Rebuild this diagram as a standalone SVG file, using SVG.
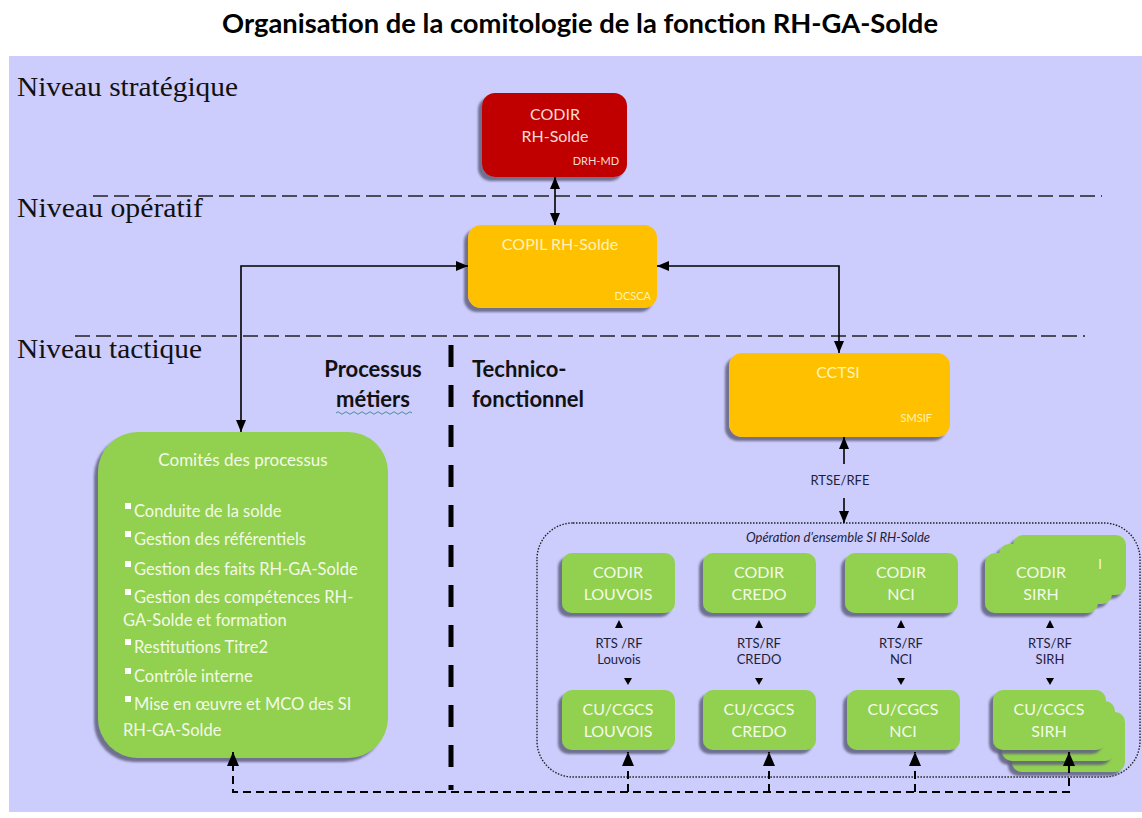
<svg xmlns="http://www.w3.org/2000/svg" width="1142" height="818" viewBox="0 0 1142 818">
<defs>
<style>
.sans{font-family:Lato,"Open Sans","Liberation Sans",sans-serif}
.serif{font-family:"Liberation Serif","Times New Roman",serif}
.lvl{font-size:27px;fill:#111}
.title{font-size:26px;font-weight:bold;fill:#000}
.boxt{font-size:16px;text-anchor:middle}
.gt{fill:#F3FAE8}
.yt{fill:#FFF3B8}
.rt{fill:#F8DCD4}
.small{font-size:11px}
.lab{font-size:13px;fill:#1E1E3A;text-anchor:middle}
.item{font-size:16.5px;fill:#F3FAE8}
.hdr{font-size:22px;font-weight:bold;fill:#111}
.green{fill:#92D050}
.yel{fill:#FFC000}
.red{fill:#C00000}
.conn{stroke:#000;stroke-width:1.6;fill:none}
.fb{stroke:#000;stroke-width:2;fill:none;stroke-dasharray:8 5}
.lvline{stroke:#222;stroke-width:1.5;stroke-dasharray:15 6;fill:none}
</style>
<filter id="sh" x="-20%" y="-20%" width="140%" height="140%">
<feDropShadow dx="-4" dy="4" stdDeviation="1.2" flood-color="#5E5E7E" flood-opacity="0.85"/>
</filter>
<marker id="ah" viewBox="0 0 12 10" refX="12" refY="5" markerWidth="12" markerHeight="10" markerUnits="userSpaceOnUse" orient="auto-start-reverse">
<path d="M0,0 L12,5 L0,10 z" fill="#000"/>
</marker>
<marker id="ahb" viewBox="0 0 14 12" refX="14" refY="6" markerWidth="14" markerHeight="12" markerUnits="userSpaceOnUse" orient="auto-start-reverse">
<path d="M0,0 L14,6 L0,12 z" fill="#000"/>
</marker>
</defs>

<rect x="0" y="0" width="1142" height="818" fill="#FFFFFF"/>
<rect x="9" y="56" width="1133" height="756" fill="#CCCCFD"/>

<text class="sans title" x="222" y="33" textLength="716" lengthAdjust="spacingAndGlyphs">Organisation de la comitologie de la fonction  RH-GA-Solde</text>

<g id="levels">
<text class="serif lvl" x="17" y="96" textLength="221" lengthAdjust="spacingAndGlyphs">Niveau stratégique</text>
<text class="serif lvl" x="17" y="217" textLength="186" lengthAdjust="spacingAndGlyphs">Niveau opératif</text>
<text class="serif lvl" x="17" y="358" textLength="185" lengthAdjust="spacingAndGlyphs">Niveau tactique</text>
<path class="lvline" d="M93 196 H1102"/>
<path class="lvline" d="M75 336 H1085"/>
</g>

<g id="section-labels">
<text class="sans hdr" x="373" y="377" text-anchor="middle">Processus</text>
<text class="sans hdr" x="373" y="407" text-anchor="middle">métiers</text>
<path d="M336 413 q2 -2.5 4 0 t4 0 t4 0 t4 0 t4 0 t4 0 t4 0 t4 0 t4 0 t4 0 t4 0 t4 0 t4 0 t4 0 t4 0 t4 0 t4 0 t4 0 t4 0" stroke="#4C8C9C" stroke-width="1" fill="none"/>
<text class="sans hdr" x="472" y="377">Technico-</text>
<text class="sans hdr" x="472" y="407">fonctionnel</text>
<path d="M451 345 V790" stroke="#000" stroke-width="5" stroke-dasharray="22 18" fill="none"/>
</g>

<g id="container">
<rect x="537" y="523" width="603" height="254" rx="36" ry="36" fill="none" stroke="#222" stroke-width="1.4" stroke-dasharray="1.5 1.5"/>
<text class="sans" x="838" y="542" text-anchor="middle" font-size="13" font-style="italic" fill="#1E1E3A">Opération d’ensemble SI RH-Solde</text>
</g>

<g id="codir-rh">
<rect class="red" x="482" y="93" width="145" height="84" rx="13" filter="url(#sh)"/>
<text class="sans boxt rt" x="555" y="120">CODIR</text>
<text class="sans boxt rt" x="555" y="142">RH-Solde</text>
<text class="sans small rt" x="619" y="165" text-anchor="end">DRH-MD</text>
</g>

<g id="copil">
<rect class="yel" x="468" y="225" width="189" height="83" rx="13" filter="url(#sh)"/>
<text class="sans boxt yt" x="560" y="250">COPIL RH-Solde</text>
<text class="sans small yt" x="651" y="300" text-anchor="end">DCSCA</text>
</g>

<g id="cctsi">
<rect class="yel" x="729" y="353" width="221" height="84" rx="13" filter="url(#sh)"/>
<text class="sans boxt yt" x="838" y="378">CCTSI</text>
<text class="sans small yt" x="932" y="422" text-anchor="end">SMSIF</text>
</g>

<g id="comites">
<rect class="green" x="98" y="432" width="290" height="326" rx="40" filter="url(#sh)"/>
<text class="sans gt" x="243" y="466" font-size="17" text-anchor="middle">Comités des processus</text>
<g fill="#FFFFFF">
<rect x="125" y="503" width="6" height="6"/>
<rect x="125" y="531" width="6" height="6"/>
<rect x="125" y="561" width="6" height="6"/>
<rect x="125" y="589" width="6" height="6"/>
<rect x="125" y="639" width="6" height="6"/>
<rect x="125" y="668" width="6" height="6"/>
<rect x="125" y="696" width="6" height="6"/>
</g>
<text class="sans item" x="134" y="517">Conduite de la solde</text>
<text class="sans item" x="134" y="545">Gestion des référentiels</text>
<text class="sans item" x="134" y="575">Gestion des faits RH-GA-Solde</text>
<text class="sans item" x="134" y="603">Gestion des compétences RH-</text>
<text class="sans item" x="123" y="626">GA-Solde et formation</text>
<text class="sans item" x="134" y="653">Restitutions  Titre2</text>
<text class="sans item" x="134" y="682">Contrôle interne</text>
<text class="sans item" x="134" y="710">Mise en œuvre et MCO des SI</text>
<text class="sans item" x="123" y="736">RH-GA-Solde</text>
</g>

<g id="codir-louvois">
<rect class="green" x="562" y="553" width="113" height="60" rx="10" filter="url(#sh)"/>
<text class="sans boxt gt" x="618" y="578">CODIR</text>
<text class="sans boxt gt" x="618" y="600">LOUVOIS</text>
</g>
<g id="codir-credo">
<rect class="green" x="703" y="553" width="113" height="60" rx="10" filter="url(#sh)"/>
<text class="sans boxt gt" x="759" y="578">CODIR</text>
<text class="sans boxt gt" x="759" y="600">CREDO</text>
</g>
<g id="codir-nci">
<rect class="green" x="845" y="553" width="113" height="60" rx="10" filter="url(#sh)"/>
<text class="sans boxt gt" x="901" y="578">CODIR</text>
<text class="sans boxt gt" x="901" y="600">NCI</text>
</g>
<g id="codir-sirh">
<rect class="green" x="1013" y="535" width="113" height="60" rx="10" filter="url(#sh)"/>
<rect class="green" x="999" y="544" width="113" height="60" rx="10" filter="url(#sh)"/>
<text class="sans gt" x="1100" y="569" font-size="13" text-anchor="middle">I</text>
<rect class="green" x="985" y="553" width="113" height="60" rx="10" filter="url(#sh)"/>
<text class="sans boxt gt" x="1041" y="578">CODIR</text>
<text class="sans boxt gt" x="1041" y="600">SIRH</text>
</g>

<g id="cu-louvois">
<rect class="green" x="562" y="690" width="113" height="60" rx="10" filter="url(#sh)"/>
<text class="sans boxt gt" x="618" y="715">CU/CGCS</text>
<text class="sans boxt gt" x="618" y="737">LOUVOIS</text>
</g>
<g id="cu-credo">
<rect class="green" x="703" y="690" width="113" height="60" rx="10" filter="url(#sh)"/>
<text class="sans boxt gt" x="759" y="715">CU/CGCS</text>
<text class="sans boxt gt" x="759" y="737">CREDO</text>
</g>
<g id="cu-nci">
<rect class="green" x="847" y="690" width="113" height="60" rx="10" filter="url(#sh)"/>
<text class="sans boxt gt" x="903" y="715">CU/CGCS</text>
<text class="sans boxt gt" x="903" y="737">NCI</text>
</g>
<g id="cu-sirh">
<rect class="green" x="1012" y="712" width="113" height="60" rx="10" filter="url(#sh)"/>
<rect class="green" x="1002" y="701" width="113" height="60" rx="10" filter="url(#sh)"/>
<rect class="green" x="993" y="690" width="113" height="60" rx="10" filter="url(#sh)"/>
<text class="sans boxt gt" x="1049" y="715">CU/CGCS</text>
<text class="sans boxt gt" x="1049" y="737">SIRH</text>
</g>

<g id="connectors">
<path class="conn" d="M555 177 V225" marker-start="url(#ah)" marker-end="url(#ah)"/>
<path class="conn" d="M468 266 H241 V432" marker-start="url(#ah)" marker-end="url(#ah)"/>
<path class="conn" d="M657 266 H839 V353" marker-start="url(#ah)" marker-end="url(#ah)"/>
<path class="conn" d="M844 464 V437" marker-end="url(#ah)"/>
<path class="conn" d="M844 498 V523" marker-end="url(#ah)"/>
<text class="sans lab" x="840" y="485">RTSE/RFE</text>

<g fill="#000">
<polygon points="619,620 615,628 623,628"/>
<polygon points="624,678 632,678 628,685"/>
<polygon points="759,620 755,628 763,628"/>
<polygon points="755,678 763,678 759,685"/>
<polygon points="901,620 897,628 905,628"/>
<polygon points="897,678 905,678 901,685"/>
<polygon points="1050,620 1046,628 1054,628"/>
<polygon points="1046,678 1054,678 1050,685"/>
</g>
<text class="sans lab" x="619" y="648">RTS /RF</text>
<text class="sans lab" x="619" y="664">Louvois</text>
<text class="sans lab" x="759" y="648">RTS/RF</text>
<text class="sans lab" x="759" y="664">CREDO</text>
<text class="sans lab" x="901" y="648">RTS/RF</text>
<text class="sans lab" x="901" y="664">NCI</text>
<text class="sans lab" x="1050" y="648">RTS/RF</text>
<text class="sans lab" x="1050" y="664">SIRH</text>

<path class="fb" d="M1069 752 V792 H233 V752" marker-start="url(#ahb)" marker-end="url(#ahb)"/>
<path class="fb" d="M628 792 V752" marker-end="url(#ahb)"/>
<path class="fb" d="M769 792 V752" marker-end="url(#ahb)"/>
<path class="fb" d="M915 792 V752" marker-end="url(#ahb)"/>
</g>
</svg>
